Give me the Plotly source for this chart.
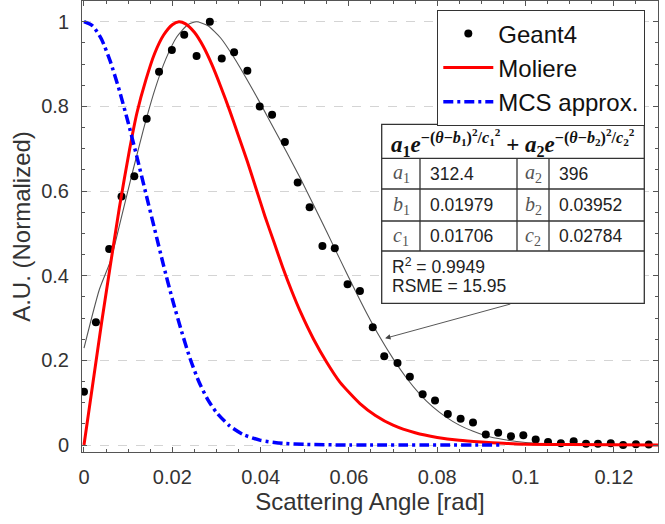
import plotly.graph_objects as go

# ---------------- data ----------------
geant4_x = [0.0000, 0.0027, 0.0057, 0.0085, 0.0114, 0.0142, 0.0170, 0.0199, 0.0227, 0.0255,
            0.0285, 0.0312, 0.0340, 0.0370, 0.0398, 0.0426, 0.0455, 0.0484, 0.0511, 0.0540,
            0.0568, 0.0597, 0.0625, 0.0654, 0.0680, 0.0710, 0.0738, 0.0767, 0.0795, 0.0824,
            0.0853, 0.0881, 0.0910, 0.0938, 0.0967, 0.0995, 0.1023, 0.1051, 0.1080, 0.1109,
            0.1137, 0.1164, 0.1193, 0.1221, 0.1250, 0.1279]
geant4_y = [0.126, 0.290, 0.463, 0.587, 0.635, 0.771, 0.882, 0.933, 0.969, 0.919,
            1.000, 0.913, 0.928, 0.884, 0.800, 0.780, 0.716, 0.620, 0.562, 0.470,
            0.465, 0.380, 0.364, 0.278, 0.210, 0.194, 0.161, 0.120, 0.105, 0.073,
            0.062, 0.053, 0.025, 0.029, 0.021, 0.023, 0.013, 0.007, 0.004, 0.009,
            0.003, 0.003, 0.004, 0.000, 0.002, 0.001]

fit_x = [0.0000, 0.0035, 0.0060, 0.0085, 0.0110, 0.0135, 0.0160, 0.0185, 0.0210, 0.0235,
         0.0255, 0.0280, 0.0310, 0.0340, 0.0370, 0.0400, 0.0430, 0.0460, 0.0490, 0.0520,
         0.0550, 0.0580, 0.0610, 0.0640, 0.0670, 0.0700, 0.0730, 0.0760, 0.0790, 0.0820,
         0.0850, 0.0880, 0.0910, 0.0950, 0.1000, 0.1050, 0.1100, 0.1200, 0.1300]
fit_y = [0.229, 0.368, 0.435, 0.539, 0.645, 0.747, 0.838, 0.911, 0.964, 0.993,
         1.000, 0.991, 0.961, 0.915, 0.862, 0.806, 0.748, 0.690, 0.630, 0.567,
         0.503, 0.438, 0.374, 0.312, 0.255, 0.204, 0.159, 0.121, 0.090, 0.066,
         0.047, 0.033, 0.022, 0.013, 0.006, 0.003, 0.001, 0.000, 0.000]

moliere_x = [0.0000, 0.0040, 0.0080, 0.0103, 0.0120, 0.0140, 0.0160, 0.0180, 0.0200, 0.0215,
             0.0230, 0.0250, 0.0270, 0.0290, 0.0310, 0.0330, 0.0350, 0.0370, 0.0390, 0.0410,
             0.0430, 0.0450, 0.0470, 0.0490, 0.0520, 0.0550, 0.0580, 0.0625, 0.0660, 0.0700,
             0.0750, 0.0800, 0.0850, 0.0900, 0.0950, 0.1000, 0.1100, 0.1300]
moliere_y = [0.000, 0.290, 0.560, 0.697, 0.785, 0.862, 0.925, 0.968, 0.993, 1.000,
             0.995, 0.975, 0.942, 0.898, 0.846, 0.790, 0.730, 0.670, 0.605, 0.540,
             0.480, 0.420, 0.365, 0.315, 0.250, 0.195, 0.148, 0.098, 0.070, 0.047,
             0.029, 0.018, 0.011, 0.007, 0.004, 0.002, 0.001, 0.000]

mcs_x = [0.0000, 0.0020, 0.0040, 0.0060, 0.0080, 0.0100, 0.0120, 0.0140, 0.0160, 0.0180,
         0.0200, 0.0220, 0.0240, 0.0260, 0.0280, 0.0300, 0.0330, 0.0360, 0.0400, 0.0450,
         0.0500, 0.0600, 0.0949]
mcs_y = [1.000, 0.990, 0.958, 0.905, 0.838, 0.762, 0.680, 0.595, 0.510, 0.425,
         0.345, 0.272, 0.205, 0.150, 0.108, 0.077, 0.045, 0.025, 0.011, 0.004,
         0.0015, 0.000, 0.000]

x_tickvals = [0, 0.02, 0.04, 0.06, 0.08, 0.1, 0.12]
x_ticktext = ["0", "0.02", "0.04", "0.06", "0.08", "0.1", "0.12"]
y_tickvals = [0, 0.2, 0.4, 0.6, 0.8, 1.0]
y_ticktext = ["0", "0.2", "0.4", "0.6", "0.8", "1"]

fit_params = [("a", "1", "312.4", "a", "2", "396"),
              ("b", "1", "0.01979", "b", "2", "0.03952"),
              ("c", "1", "0.01706", "c", "2", "0.02784")]
fit_stats = ["R<sup>2</sup> = 0.9949", "RSME = 15.95"]

# ---------------- figure ----------------
W, H = 665, 524
ML, MR, MT, MB = 82, 7, 1, 72
PW, PH = W - ML - MR, H - MT - MB


def px(x):
    return (x - ML) / PW


def py(y):
    return 1 - (y - MT) / PH


SANS = "Liberation Sans, Arial, sans-serif"
SERIF = "Liberation Serif, Times New Roman, serif"

fig = go.Figure()

fig.add_trace(go.Scatter(x=fit_x, y=fit_y, mode="lines",
                         line=dict(color="#555555", width=1.1, shape="spline", smoothing=0.6),
                         showlegend=False, hoverinfo="skip"))
fig.add_trace(go.Scatter(x=geant4_x, y=geant4_y, mode="markers", name="Geant4",
                         marker=dict(color="black", size=8)))
fig.add_trace(go.Scatter(x=moliere_x, y=moliere_y, mode="lines", name="Moliere",
                         line=dict(color="#ff0000", width=3, shape="spline", smoothing=0.6)))
fig.add_trace(go.Scatter(x=mcs_x, y=mcs_y, mode="lines", name="MCS approx.",
                         line=dict(color="#0000ff", width=3.5, dash="10px,4px,3px,4px",
                                   shape="spline", smoothing=0.6)))

axis_common = dict(showline=True, linecolor="#555555", linewidth=1, mirror="allticks",
                   ticks="inside", ticklen=5, tickcolor="#555555", zeroline=False, automargin=False,
                   tickfont=dict(family=SANS, size=20, color="#333333"))

fig.update_xaxes(range=[-0.00045, 0.13], tickvals=x_tickvals, ticktext=x_ticktext, showgrid=False,
                 minor=dict(dtick=0.005, tick0=0, ticks="inside", ticklen=3, tickcolor="#555555", showgrid=False),
                 title=dict(text="Scattering Angle [rad]", font=dict(family=SANS, size=24, color="#333333"), standoff=1),
                 ticklabelstandoff=7, **axis_common)
fig.update_yaxes(range=[-0.0165, 1.049], tickvals=y_tickvals, ticktext=y_ticktext, showgrid=True,
                 gridcolor="#d4d4d4", griddash="dash", gridwidth=1,
                 minor=dict(dtick=0.05, tick0=0, ticks="inside", ticklen=3, tickcolor="#555555", showgrid=False),
                 title=dict(text="A.U. (Normalized)", font=dict(family=SANS, size=24, color="#333333"), standoff=3),
                 ticklabelstandoff=8, **axis_common)

shapes = []
annotations = []
LINE = dict(color="#333333", width=1.3)
tx0, tx1, ty0, ty1 = 381.7, 644.3, 124.3, 303.3
shapes.append(dict(type="rect", xref="paper", yref="paper", x0=px(tx0), x1=px(tx1), y0=py(ty1), y1=py(ty0),
                   fillcolor="white", line=LINE, layer="above"))
row_edges = [158.3, 189.0, 221.0, 251.0]
for yy in row_edges:
    shapes.append(dict(type="line", xref="paper", yref="paper", x0=px(tx0), x1=px(tx1), y0=py(yy), y1=py(yy),
                       line=LINE, layer="above"))
for xx in [420.0, 517.0, 549.0]:
    shapes.append(dict(type="line", xref="paper", yref="paper", x0=px(xx), x1=px(xx), y0=py(row_edges[0]),
                       y1=py(row_edges[-1]), line=LINE, layer="above"))

header = ("<b><i>a</i><sub>1</sub><i>e</i><sup>−(<i>θ</i>−<i>b</i><sub>1</sub>)<sup>2</sup>/<i>c</i><sub>1</sub><sup>2</sup></sup>"
          " + <i>a</i><sub>2</sub><i>e</i><sup>−(<i>θ</i>−<i>b</i><sub>2</sub>)<sup>2</sup>/<i>c</i><sub>2</sub><sup>2</sup></sup></b>")
annotations.append(dict(xref="paper", yref="paper", x=px((tx0 + tx1) / 2), y=py(143), text=header, showarrow=False,
                        font=dict(family=SERIF, size=23, color="#111111"), xanchor="center", yanchor="middle"))

for i, (n1, s1, v1, n2, s2, v2) in enumerate(fit_params):
    yc = (row_edges[i] + row_edges[i + 1]) / 2
    annotations.append(dict(xref="paper", yref="paper", x=px(401), y=py(yc), text=f"<i>{n1}</i><sub>{s1}</sub>",
                            showarrow=False, font=dict(family=SERIF, size=20, color="#555555"),
                            xanchor="center", yanchor="middle"))
    annotations.append(dict(xref="paper", yref="paper", x=px(428), y=py(yc), text=v1, showarrow=False,
                            font=dict(family=SANS, size=17.5, color="#222222"), xanchor="left", yanchor="middle"))
    annotations.append(dict(xref="paper", yref="paper", x=px(533), y=py(yc), text=f"<i>{n2}</i><sub>{s2}</sub>",
                            showarrow=False, font=dict(family=SERIF, size=20, color="#555555"),
                            xanchor="center", yanchor="middle"))
    annotations.append(dict(xref="paper", yref="paper", x=px(557), y=py(yc), text=v2, showarrow=False,
                            font=dict(family=SANS, size=17.5, color="#222222"), xanchor="left", yanchor="middle"))

for j, t in enumerate(fit_stats):
    annotations.append(dict(xref="paper", yref="paper", x=px(390), y=py(266 + 20 * j), text=t, showarrow=False,
                            font=dict(family=SANS, size=17.5, color="#222222"), xanchor="left", yanchor="middle"))

# arrow from table to the fit curve
annotations.append(dict(x=0.0682, y=0.252, xref="x", yref="y", ax=0.0969, ay=0.334, axref="x", ayref="y",
                        text="", showarrow=True, arrowhead=2, arrowsize=1.2, arrowwidth=0.9, arrowcolor="#444444"))

fig.update_layout(
    width=W, height=H, margin=dict(l=ML, r=MR, t=MT, b=MB, autoexpand=False),
    plot_bgcolor="white", paper_bgcolor="white",
    shapes=shapes, annotations=annotations,
    legend=dict(x=px(645), y=py(10), xanchor="right", yanchor="top", bgcolor="white",
                bordercolor="#333333", borderwidth=1.3, font=dict(family=SANS, size=24, color="#111111"),
                itemwidth=50, tracegroupgap=0),
    font=dict(family=SANS),
)

fig.write_html("out.html", config={"displayModeBar": False},
               post_script="document.body.style.margin='0';document.body.style.overflow='hidden';")
